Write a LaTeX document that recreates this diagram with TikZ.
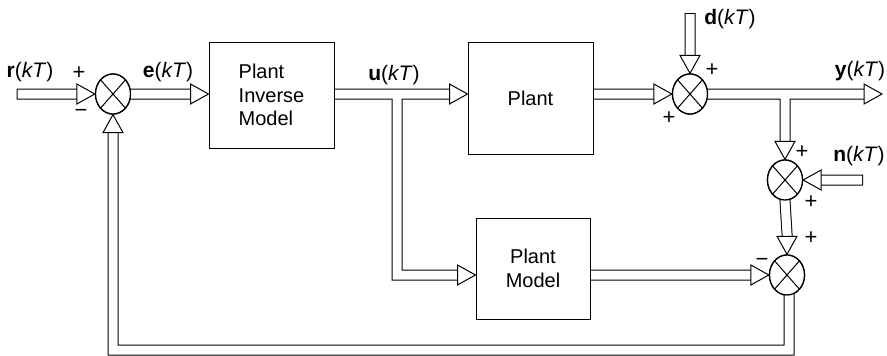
\documentclass[tikz,border=0pt]{standalone}
\usepackage{fontspec}
\setmainfont{Liberation Sans}
\usetikzlibrary{shapes.geometric,calc}
\tikzset{
  shaftB/.style={line width=11pt,black,line cap=rect,line join=miter},
  shaftW/.style={line width=9pt,white,line cap=rect,line join=miter},
  ahead/.style={draw=black,fill=white,line width=1pt,line join=miter},
  sumj/.style={ellipse,draw=black,fill=white,line width=1.3pt,minimum width=35pt,minimum height=40pt,inner sep=0pt},
  blk/.style={rectangle,draw=black,fill=white,line width=1pt,inner sep=0pt,align=left,font=\fontsize{20}{23.5}\selectfont},
  invbox/.style={blk,minimum width=125pt,minimum height=106pt},
  plantbox/.style={blk,minimum width=125pt,minimum height=112pt,align=center},
  modelbox/.style={blk,minimum width=114pt,minimum height=101pt,align=center},
  lbl/.style={inner sep=0pt,font=\fontsize{21}{24}\selectfont},
  sgn/.style={inner sep=0pt,font=\fontsize{22}{24}\selectfont},
  ahd/.pic={\draw[ahead] (0,0) -- (-18,-10) -- (-18,10) -- cycle;}
}
\newcommand\drawshafts[1]{%
  \draw[#1] (22,94) -- ($(j1.west)+(-21,0)$)
    (j1.east) -- ($(inv.west|-j1.east)+(-21,0)$)
    (inv.east|-j1.east) -- ($(plant.west|-j1.east)+(-21,0)$)
    (397,94) -- (397,275) -- ($(model.west|-j4.west)+(-21,0)$)
    (plant.east|-j2.west) -- ($(j2.west)+(-21,0)$)
    (690,18.5) -- ($(j2.north)+(0,-21)$)
    (j2.east) -- ($(yout)+(-21,0)$)
    (785,94) -- ($(j3.north)+(0,-21)$)
    (857.5,180) -- ($(j3.east)+(21,0)$)
    (j3.south) -- ($(j4.north)+(0,-21)$)
    (model.east|-j4.west) -- ($(j4.west)+(-21,0)$)
    (789,288) -- (789,350) -- (113,350) -- ($(j1.south)+(0,21)$);}
\begin{document}
\begin{tikzpicture}[x=1pt,y=-1pt]
\useasboundingbox[fill=white] (0,0) rectangle (887,356);
% nodes (positions)
\node[sumj] (j1) at (113,94) {};
\node[sumj] (j2) at (690,94) {};
\node[sumj] (j3) at (785,180) {};
\node[sumj] (j4) at (787,275) {};
\node[invbox] (inv) at (271.5,95) {Plant\\Inverse\\Model};
\node[plantbox] (plant) at (530.5,98) {Plant};
\node[modelbox] (model) at (533,268.5) {Plant\\Model};
\coordinate (yout) at (882,94);
% shafts
\drawshafts{shaftB}
\drawshafts{shaftW}
% blocks redrawn on top
\node[invbox] at (inv) {Plant\\Inverse\\Model};
\node[plantbox] at (plant) {Plant};
\node[modelbox] at (model) {Plant\\Model};
% arrowheads
\path (j1.west) pic{ahd};
\path (inv.west|-j1.east) pic{ahd};
\path (plant.west|-j1.east) pic{ahd};
\path (model.west|-j4.west) pic{ahd};
\path (j2.west) pic{ahd};
\path (j2.north) pic[rotate=-90]{ahd};
\path (yout) pic{ahd};
\path (j3.north) pic[rotate=-90]{ahd};
\path (j3.east) pic[rotate=180]{ahd};
\path (j4.north) pic[rotate=-90]{ahd};
\path (j4.west) pic{ahd};
\path (j1.south) pic[rotate=90]{ahd};
% summing junctions redrawn on top
\foreach \j in {j1,j2,j3,j4}{
  \node[sumj] at (\j) {};
  \draw[line width=1pt] (\j.north east) -- (\j.south west) (\j.north west) -- (\j.south east);
}
% labels
\node[lbl] (lr) at (30,72) {\textbf{r}(\textit{kT})};
\node[lbl] (le) at (168,72) {\textbf{e}(\textit{kT})};
\node[lbl] (lu) at (394,75) {\textbf{u}(\textit{kT})};
\node[lbl] (ld) at (730,19) {\textbf{d}(\textit{kT})};
\node[lbl] (ly) at (860,71) {\textbf{y}(\textit{kT})};
\node[lbl] (ln) at (859,156) {\textbf{n}(\textit{kT})};
% signs
\node[sgn] (s1) at (79,73) {+};
\node[sgn] (s2) at (81,113) {−};
\node[sgn] (s3) at (712,70) {+};
\node[sgn] (s4) at (669,118) {+};
\node[sgn] (s5) at (802,152) {+};
\node[sgn] (s6) at (811,202) {+};
\node[sgn] (s7) at (811,238) {+};
\node[sgn] (s8) at (762,262) {−};
\end{tikzpicture}
\end{document}
